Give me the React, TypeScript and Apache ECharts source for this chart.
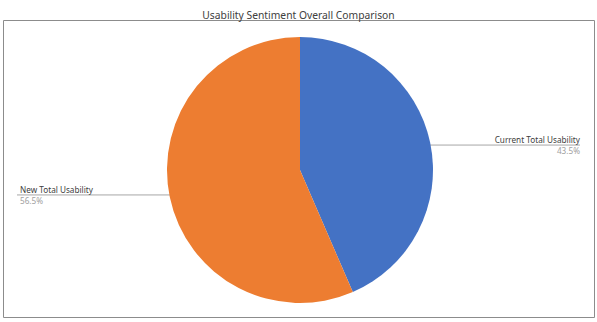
import React, { useEffect, useRef } from "react";
import * as echarts from "echarts";

const chartTitle = "Usability Sentiment Overall Comparison";
const categories = ["Current Total Usability", "New Total Usability"];
const values = [43.5, 56.5];
const colors = ["#4472C4", "#ED7D31"];

export default function App() {
  const ref = useRef<HTMLDivElement>(null);
  useEffect(() => {
    if (!ref.current) return;
    const chart = echarts.init(ref.current, null, { renderer: "svg" });
    const font = "Noto Sans";
    chart.setOption({
      animation: false,
      backgroundColor: "#ffffff",
      title: {
        text: chartTitle,
        left: "center",
        top: 5,
        textStyle: { fontFamily: font, fontSize: 10.3, fontWeight: "normal", color: "#404040" },
      },
      graphic: [
        {
          type: "rect",
          shape: { x: 3.5, y: 20.5, width: 591, height: 297 },
          style: { fill: "none", stroke: "#8c8c8c", lineWidth: 1 },
          silent: true,
        },
      ],
      series: [
        {
          type: "pie",
          center: [300, 170],
          radius: 133,
          startAngle: 90,
          clockwise: true,
          itemStyle: { borderWidth: 0 },
          emphasis: { disabled: true },
          label: {
            show: true,
            position: "outer",
            fontFamily: font,
            formatter: (p: any) => `{n|${p.name}}\n{v|${p.percent.toFixed(1)}%}`,
            rich: {
              n: { fontFamily: font, fontSize: 8.2, color: "#404040", lineHeight: 11 },
              v: { fontFamily: font, fontSize: 8.2, color: "#a0a0a0", lineHeight: 11 },
            },
          },
          labelLine: {
            show: true,
            length: 10,
            length2: 10,
            lineStyle: { color: "#a6a6a6", width: 1 },
          },
          labelLayout: (params: any) => {
            const pts = params.labelLinePoints;
            if (!pts) return {};
            const [x0, y0] = pts[0];
            const [x1, y1] = pts[1];
            const dx = x1 - x0;
            const dy = y1 - y0;
            const len = Math.sqrt(dx * dx + dy * dy) || 1;
            const ex = x0 - (dx / len) * 10;
            const ey = y0 - (dy / len) * 10;
            const W = chart.getWidth();
            const right = x1 > x0;
            const edge = right ? W - 17 : 17;
            return {
              x: right ? W - 17 : 20,
              y: ey,
              align: right ? "right" : "left",
              verticalAlign: "middle",
              labelLinePoints: [
                [ex, ey],
                [edge, ey],
              ],
            };
          },
          data: categories.map((name, i) => ({
            name,
            value: values[i],
            itemStyle: { color: colors[i] },
          })),
        },
      ],
    });
    return () => chart.dispose();
  }, []);
  return (
    <div
      ref={ref}
      style={{ position: "fixed", left: 0, top: 0, width: 597, height: 322 }}
    />
  );
}
